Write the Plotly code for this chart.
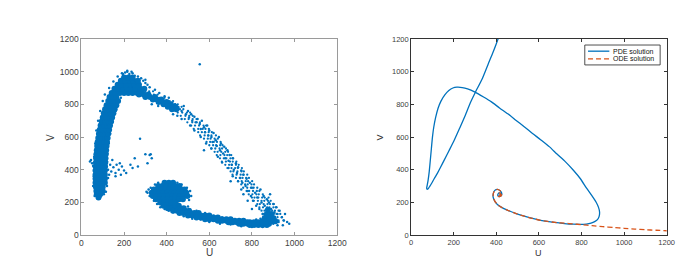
import plotly.graph_objects as go

# ---------------- data ----------------
tick_vals = [0, 200, 400, 600, 800, 1000, 1200]
tick_text = ["0", "200", "400", "600", "800", "1000", "1200"]
legend_names = ["PDE solution", "ODE solution"]

# Left panel: dense parts of the point cloud, as rows (V, [U values])
left_band_rows = [
    (230, [80]), (250, [72, 88]), (270, [70, 86, 100]), (295, [68, 84, 100]),
    (320, [66, 82, 98, 110]), (345, [66, 82, 98, 110]), (370, [66, 82, 98, 110]),
    (395, [66, 82, 98, 110]), (420, [67, 83, 99, 111]), (445, [68, 84, 100, 112]),
    (470, [69, 85, 101, 113]), (495, [70, 86, 102, 114]), (520, [72, 88, 104, 116]),
    (545, [74, 90, 106, 118]), (570, [76, 92, 108, 120]), (595, [79, 95, 111, 123]),
    (620, [82, 98, 114, 126]), (645, [86, 102, 118, 130]), (670, [90, 106, 122, 134]),
    (695, [95, 111, 127, 139]), (720, [100, 116, 132, 144]), (745, [105, 121, 137, 150]),
    (770, [111, 127, 143, 156]), (795, [118, 134, 150, 164]), (820, [126, 142, 158, 172]),
    (845, [132, 148, 164]),
]
arc_top_rows = [
    (870, [142, 160, 180, 200, 220, 240, 262, 284]),
    (895, [155, 175, 195, 215, 235, 255, 275, 295]),
    (920, [170, 190, 210, 230, 250, 270]),
    (945, [185, 205, 225, 245, 265]),
    (965, [200, 220, 240]),
    (860, [270, 292, 314]),
    (845, [300, 322, 345]),
    (830, [335, 355, 375]),
    (815, [362, 382, 400]),
    (800, [385, 405, 420]),
    (785, [405, 425, 440]),
    (770, [425, 445]),
]
blob_rows = [
    (320, [390, 410, 430]),
    (300, [360, 380, 400, 420, 440, 460]),
    (280, [340, 358, 376, 394, 412, 430, 448, 466, 484]),
    (260, [330, 348, 366, 384, 402, 420, 438, 456, 474, 492]),
    (240, [335, 353, 371, 389, 407, 425, 443, 461, 479, 497]),
    (220, [350, 368, 386, 404, 422, 440, 458, 476]),
    (200, [370, 388, 406, 424, 442]),
    (180, [385, 403, 421, 439, 457]),
]
tail_rows = [
    (165, [405, 422, 440, 460, 480]),
    (150, [430, 448, 465, 485, 505]),
    (135, [460, 478, 495, 512, 530, 550]),
    (120, [500, 520, 540, 560, 580, 600]),
    (108, [540, 560, 580, 600, 620, 640]),
    (97, [580, 600, 620, 640, 660, 680, 700]),
    (88, [640, 660, 680, 700, 720, 740, 760]),
    (79, [690, 710, 730, 750, 770, 790, 810, 830]),
    (70, [740, 760, 780, 800, 820, 840, 860, 880]),
    (62, [790, 810, 830, 850, 870]),
    (85, [850, 870, 890, 910]),
    (105, [860, 880, 900]),
    (130, [870, 890]),
    (155, [875]),
]
# Left panel: speckled descending branch, rows (V, [U values])
desc_rows = [
    (880, [300, 318, 336]), (860, [322, 340, 358]), (840, [350, 368, 390]),
    (820, [380, 398, 414, 430]), (800, [402, 420, 438, 452]), (785, [420, 438, 455, 470]),
    (770, [440, 462, 478]), (750, [452, 473, 495, 510]), (730, [466, 488, 506, 522]),
    (710, [485, 503, 522, 540]), (690, [497, 520, 535, 556]), (670, [515, 533, 552, 573, 585]),
    (650, [527, 548, 569, 582, 598]), (630, [548, 565, 580, 597, 612]),
    (610, [557, 578, 595, 610, 631]), (590, [575, 593, 606, 625, 640]),
    (570, [587, 604, 621, 636, 653]), (550, [600, 618, 632, 651, 662]),
    (530, [609, 628, 648, 660, 678]), (510, [625, 639, 656, 675, 688]),
    (490, [635, 652, 671, 684, 703]), (470, [650, 668, 680, 699, 712]),
    (450, [659, 678, 697, 710, 727]), (430, [675, 693, 706, 725, 738]),
    (410, [685, 704, 721, 734, 753]), (390, [700, 713, 732, 751, 762]),
    (370, [709, 728, 747, 760, 778]), (350, [725, 743, 756, 773, 786]),
    (330, [735, 752, 771, 782, 801]), (310, [750, 768, 780, 798, 810]),
    (290, [759, 778, 795, 808, 825]), (270, [775, 787, 805, 823, 835]),
    (250, [785, 802, 821, 832, 851]), (230, [800, 812, 830, 848, 860, 878]),
    (210, [809, 828, 845, 858, 875, 888]), (190, [825, 837, 855, 873, 885, 903]),
    (170, [835, 852, 871, 882, 901, 912]), (150, [845, 859, 878, 895, 908, 925]),
    (130, [852, 873, 885, 903, 915, 933]), (110, [858, 872, 890, 908, 920, 941]),
    (90, [865, 883, 895, 913, 925, 948]),
]
# Left panel: scattered single points
sparse_u = [
    300, 320, 345, 365, 390, 410, 330, 360, 420, 440, 455, 470, 480, 490, 500, 505, 515, 520, 530, 540,
    545, 555, 560, 565, 575, 580, 590, 595, 600, 610, 615, 620, 630, 635, 645, 650, 655, 665, 670, 675,
    685, 690, 695, 705, 710, 715, 725, 730, 735, 745, 750, 755, 760, 770, 775, 780, 790, 795, 800, 805,
    815, 820, 825, 835, 840, 845, 850, 855, 860, 865, 870, 880, 885, 890, 895, 900, 905, 910, 915, 920,
    925, 930, 940, 950, 955, 965, 975, 900, 920, 945, 880, 840, 860, 800, 780, 760, 735, 710, 690, 660,
    640, 610, 585, 560, 530, 510, 470, 450, 430, 700, 750, 575,
    55, 58, 57, 120, 125, 60, 122, 65, 128, 70, 135, 78, 145, 88, 160, 100, 185, 110, 130, 150,
    170, 190, 215, 225, 250, 280, 300, 240, 62, 90, 105, 115,
    115, 125, 135, 140, 150, 160, 165, 175, 185, 190, 200, 210, 130, 120, 145, 180, 160, 105, 45, 50,
    55, 40,
    230, 250, 265, 275, 300, 310, 320, 325, 330, 305, 315, 240,
    320, 310, 325, 345, 360, 450, 470, 495, 510, 515, 505, 340, 355, 370, 390, 410, 430, 460, 480, 520,
    560, 600, 650, 700, 750, 800, 850, 500, 540, 580, 620, 660, 700, 740, 780, 820,
    555, 215, 205, 195, 235, 265, 290, 310,
]
sparse_v = [
    930, 905, 890, 870, 850, 840, 800, 790, 810, 800, 780, 760, 790, 740, 760, 720, 740, 700, 725, 690,
    710, 680, 650, 700, 660, 630, 670, 610, 640, 600, 570, 625, 580, 545, 600, 520, 560, 500, 540, 470,
    520, 455, 490, 430, 470, 400, 440, 380, 415, 350, 395, 320, 370, 300, 345, 270, 320, 240, 290, 210,
    260, 180, 230, 160, 280, 200, 130, 240, 180, 110, 220, 200, 250, 160, 120, 190, 140, 100, 170, 130,
    80, 150, 110, 90, 130, 80, 70, 70, 60, 60, 90, 100, 60, 160, 210, 250, 330, 360, 410, 445,
    480, 530, 560, 600, 640, 670, 710, 730, 740, 330, 280, 520,
    300, 360, 420, 300, 350, 480, 500, 560, 560, 640, 620, 700, 690, 760, 760, 820, 840, 860, 900, 940,
    970, 990, 1000, 985, 975, 960, 950, 990, 240, 235, 250, 265,
    420, 400, 430, 390, 415, 380, 430, 400, 370, 420, 395, 380, 370, 450, 460, 440, 360, 390, 460, 440,
    425, 450,
    430, 470, 420, 590, 495, 440, 490, 495, 470, 265, 280, 410,
    240, 260, 290, 310, 320, 320, 310, 290, 270, 240, 215, 210, 190, 170, 160, 150, 140, 130, 115, 100,
    95, 80, 70, 65, 55, 50, 50, 175, 150, 135, 118, 108, 100, 95, 90, 95,
    1045, 1005, 995, 985, 1000, 970, 945, 920,
]

# Right panel: PDE and ODE trajectories (U, V)
pde_u = [415, 408, 385, 362, 335, 300, 278, 254, 228, 200, 177, 154, 138, 123, 108, 97, 88, 82, 77, 74,
         73, 76, 80, 85, 90, 95, 100, 106, 115, 126, 140, 158, 177, 196, 215, 240, 265, 300, 340, 377,
         415, 454, 490, 531, 570, 608, 650, 685, 725, 762, 795, 823, 848, 869, 880, 885, 883, 875, 862, 845,
         823, 790, 762, 720, 685, 640, 608, 570, 531, 490, 454, 425, 405, 392, 385, 386, 393, 405, 418, 425,
         424, 416, 408, 408, 415, 421, 418, 413]
pde_v = [1230, 1200, 1120, 1047, 960, 870, 810, 732, 655, 574, 515, 456, 415, 378, 345, 319, 300, 288, 281, 282,
         290, 310, 340, 390, 460, 530, 600, 660, 720, 775, 820, 858, 885, 900, 905, 903, 895, 875, 845, 815,
         778, 742, 705, 663, 622, 584, 540, 496, 448, 397, 345, 289, 243, 201, 170, 142, 115, 95, 83, 74,
         68, 66, 67, 71, 76, 84, 91, 102, 116, 133, 152, 170, 188, 210, 232, 255, 274, 280, 272, 258,
         243, 236, 240, 252, 258, 251, 244, 247]
ode_u = [413, 418, 421, 415, 408, 408, 416, 424, 425, 418, 405, 393, 386, 385, 392, 405, 425, 454, 490, 531,
         570, 608, 640, 685, 720, 762, 800, 850, 900, 950, 1000, 1050, 1100, 1150, 1200, 1250]
ode_v = [247, 244, 251, 258, 252, 240, 236, 243, 258, 272, 280, 274, 255, 232, 210, 188, 170, 152, 133, 116,
         102, 91, 84, 77, 73, 69, 64, 58, 52, 47, 42, 37, 33, 30, 27, 24]


def expand(rows):
    us, vs = [], []
    for v, ulist in rows:
        for u in ulist:
            us.append(u)
            vs.append(v)
    return us, vs


dense_u, dense_v = [], []
for rows in (left_band_rows, arc_top_rows, blob_rows, tail_rows):
    a, b = expand(rows)
    dense_u += a
    dense_v += b
mid_u, mid_v = expand(desc_rows)

# ---------------- layout geometry ----------------
W, H = 687, 261
BLUE = "#0072BD"
ORANGE = "#D95319"
FONT = "Liberation Sans, Arial, sans-serif"


def px(x):
    return x / W


def py(y):
    return (H - y) / H


fig = go.Figure()
fig.add_trace(go.Scatter(x=dense_u, y=dense_v, mode="markers", xaxis="x", yaxis="y",
                         marker=dict(color=BLUE, size=6, line=dict(width=0)), showlegend=False,
                         hoverinfo="skip"))
fig.add_trace(go.Scatter(x=mid_u, y=mid_v, mode="markers", xaxis="x", yaxis="y",
                         marker=dict(color=BLUE, size=2.3, line=dict(width=0)), showlegend=False,
                         hoverinfo="skip"))
fig.add_trace(go.Scatter(x=sparse_u, y=sparse_v, mode="markers", xaxis="x", yaxis="y",
                         marker=dict(color=BLUE, size=2.5, line=dict(width=0)), showlegend=False,
                         hoverinfo="skip"))
fig.add_trace(go.Scatter(x=pde_u, y=pde_v, mode="lines", xaxis="x2", yaxis="y2", name=legend_names[0],
                         line=dict(color=BLUE, width=1.3, shape="spline", smoothing=0.6),
                         showlegend=False))
fig.add_trace(go.Scatter(x=ode_u, y=ode_v, mode="lines", xaxis="x2", yaxis="y2", name=legend_names[1],
                         line=dict(color=ORANGE, width=1.3, dash="5px,3px", shape="spline", smoothing=0.6),
                         showlegend=False))

ydom = [py(231), py(27)]


def axis(domain, anchor, col, fsize):
    return dict(domain=domain, anchor=anchor, range=[0, 1200], tickvals=tick_vals, ticktext=tick_text,
                ticks="inside", ticklen=3, tickwidth=1, tickcolor=col, showline=True, linecolor=col,
                linewidth=1, mirror="ticks", showgrid=False, zeroline=False,
                tickfont=dict(family=FONT, size=fsize, color="#404040"),
                fixedrange=True)


fig.update_layout(
    width=W, height=H, margin=dict(l=0, r=0, t=0, b=0),
    paper_bgcolor="white", plot_bgcolor="white",
    xaxis=axis([px(72.7), px(333)], "y", "#9a9a9a", 8.5),
    yaxis=axis(ydom, "x", "#9a9a9a", 8.5),
    xaxis2=axis([px(408.3), px(668.3)], "y2", "#333333", 7.5),
    yaxis2=axis(ydom, "x2", "#333333", 7.5),
    showlegend=False,
)

# compact legend box (drawn manually to match the small MATLAB legend)
fig.add_shape(type="rect", xref="paper", yref="paper", x0=px(585), x1=px(661.7), y0=py(54), y1=py(33.3),
              line=dict(color="#222222", width=0.8), fillcolor="white", layer="above")
fig.add_shape(type="line", xref="paper", yref="paper", x0=px(588.3), x1=px(610), y0=py(39.7), y1=py(39.7),
              line=dict(color=BLUE, width=1.3), layer="above")
fig.add_shape(type="line", xref="paper", yref="paper", x0=px(588.3), x1=px(610), y0=py(47.7), y1=py(47.7),
              line=dict(color=ORANGE, width=1.3, dash="5px,3px"), layer="above")
for yy, name in [(39.7, legend_names[0]), (47.7, legend_names[1])]:
    fig.add_annotation(x=px(611.5), y=py(yy), xref="paper", yref="paper", text=name, showarrow=False,
                       xanchor="left", yanchor="middle", font=dict(family=FONT, size=7, color="#111111"))

ann_font_l = dict(family=FONT, size=10, color="#404040")
ann_font_r = dict(family=FONT, size=9, color="#333333")
for x, y, t, ang, f in [(202.8, 249, "U", 0, ann_font_l), (40.7, 129, "V", -90, ann_font_l),
                        (537.7, 250, "U", 0, ann_font_r), (377, 129, "V", -90, ann_font_r)]:
    fig.add_annotation(x=px(x), y=py(y), xref="paper", yref="paper", text=t, showarrow=False,
                       textangle=ang, font=f, xanchor="center", yanchor="middle")

fig.write_html("out.html")
